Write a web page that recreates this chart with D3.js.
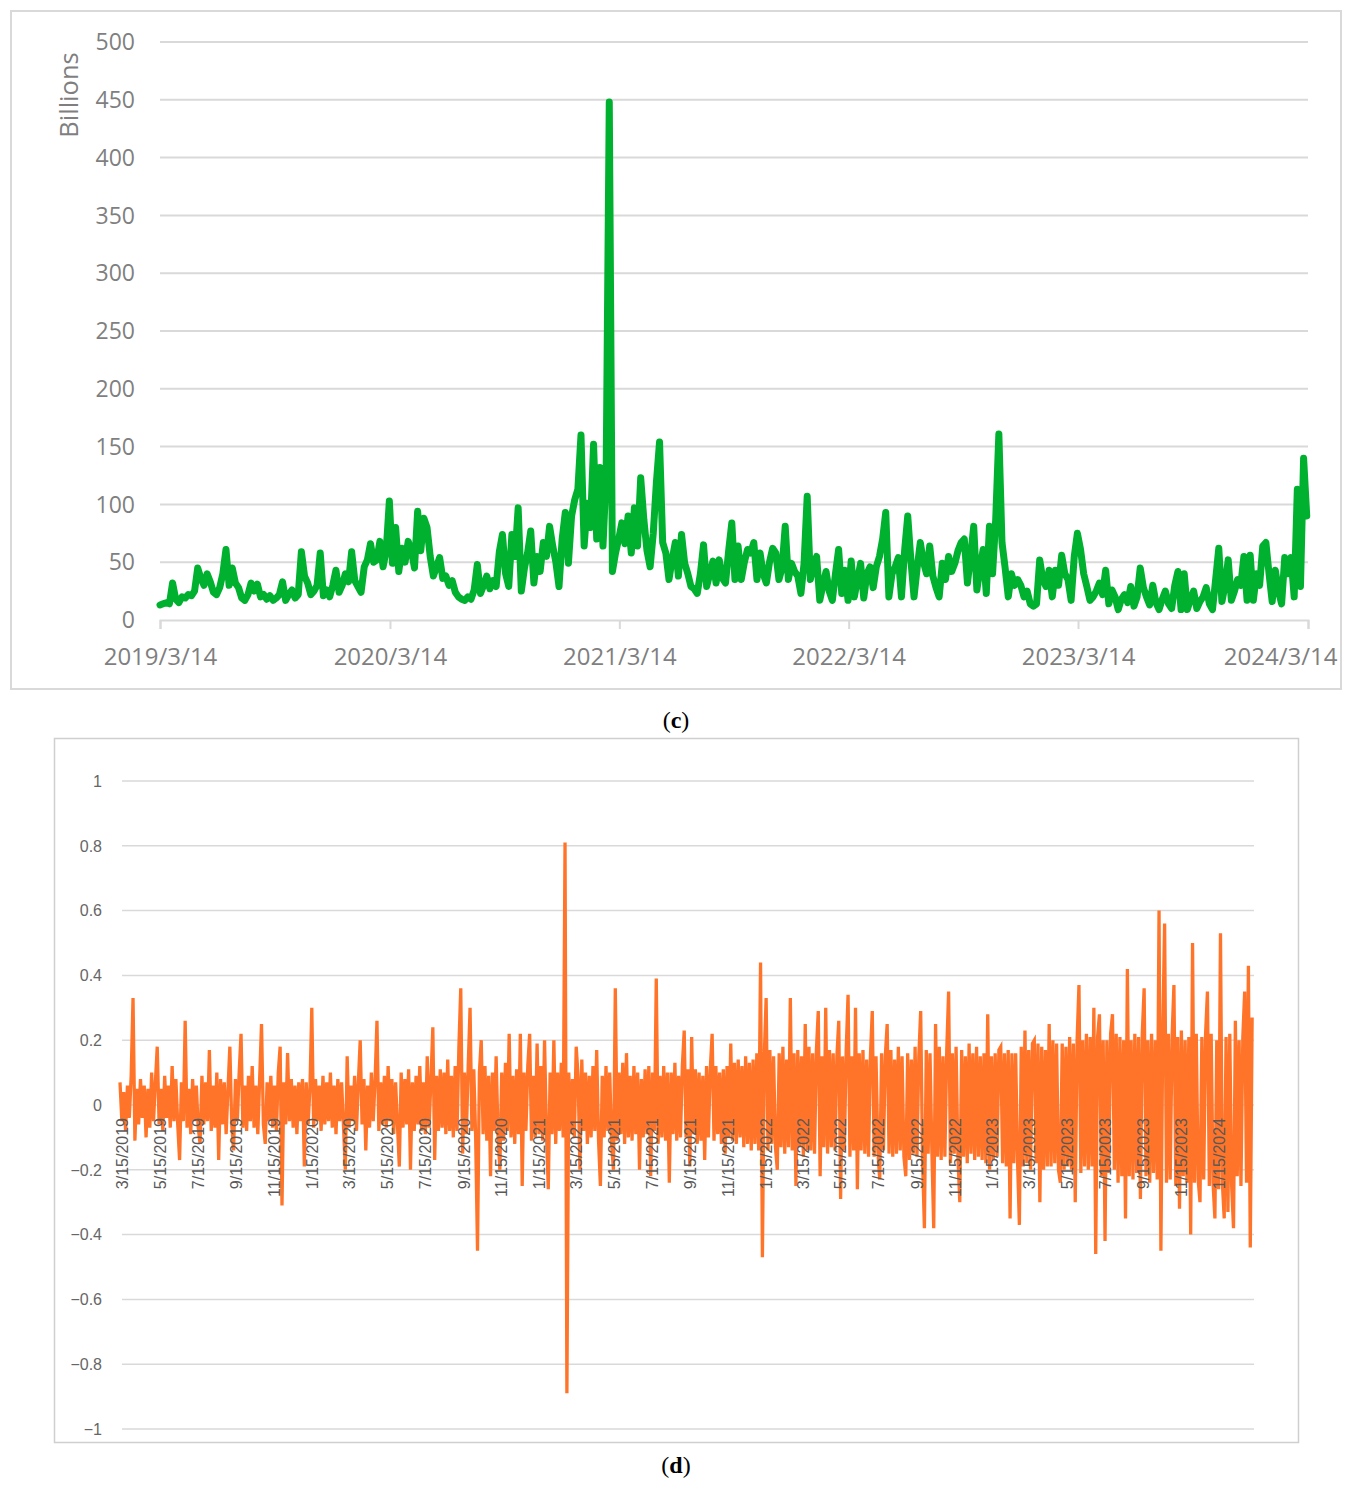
<!DOCTYPE html>
<html>
<head>
<meta charset="utf-8">
<script src="https://cdnjs.cloudflare.com/ajax/libs/d3/7.8.5/d3.min.js"></script>
<style>
  body { margin: 0; background: #fff; }
  svg { display: block; }
</style>
</head>
<body>
<svg id="mainSvg"></svg>
<script>
var WIDTH = 1352;
var HEIGHT = 1487;

// panel (c): traded volume in billions, one value every 5 days from 2019/3/14
var VOLUME_START = "2019-03-14";
var VOLUME_STEP_DAYS = 5;
var VOLUME = [
  13, 14, 15, 14, 32, 18, 15, 20, 19, 22, 21, 25, 45, 36, 30, 40, 33, 24, 22, 28,
  40, 61, 30, 45, 32, 28, 19, 17, 22, 32, 25, 31, 20, 22, 18, 21, 17, 19, 22, 33,
  17, 22, 26, 19, 22, 59, 38, 32, 22, 25, 30, 58, 21, 26, 20, 30, 43, 24, 30, 40,
  33, 59, 34, 29, 24, 46, 52, 66, 50, 52, 68, 46, 60, 103, 49, 80, 42, 62, 50, 68,
  60, 45, 94, 60, 88, 80, 55, 38, 46, 54, 36, 38, 30, 34, 24, 20, 18, 17, 20, 18,
  26, 48, 23, 30, 38, 27, 34, 29, 59, 74, 40, 29, 74, 55, 97, 25, 45, 58, 77, 32,
  55, 42, 67, 55, 81, 64, 50, 29, 70, 93, 49, 90, 104, 113, 160, 64, 101, 80, 152, 70,
  132, 64, 125, 448, 42, 58, 70, 84, 66, 90, 58, 97, 64, 123, 87, 60, 46, 75, 119, 154,
  67, 58, 35, 52, 67, 38, 74, 49, 40, 29, 27, 23, 40, 65, 29, 40, 51, 32, 52, 36,
  32, 60, 84, 35, 64, 35, 50, 61, 58, 67, 35, 58, 40, 32, 50, 62, 58, 35, 45, 81,
  35, 49, 42, 38, 23, 49, 107, 35, 48, 55, 17, 30, 42, 25, 17, 40, 61, 23, 43, 17,
  51, 20, 35, 49, 19, 40, 46, 28, 46, 55, 70, 93, 20, 40, 46, 54, 20, 60, 90, 52,
  20, 45, 67, 50, 40, 64, 38, 28, 20, 49, 35, 55, 42, 49, 60, 67, 70, 32, 55, 81,
  26, 45, 61, 23, 81, 40, 87, 161, 67, 45, 20, 40, 30, 35, 30, 20, 25, 14, 12, 14,
  52, 35, 29, 43, 20, 43, 30, 56, 40, 35, 17, 55, 75, 61, 40, 29, 17, 20, 25, 32,
  22, 43, 14, 26, 20, 9, 18, 22, 15, 29, 12, 20, 45, 28, 20, 13, 30, 15, 9, 18,
  25, 14, 10, 30, 42, 9, 40, 9, 18, 25, 10, 16, 20, 28, 14, 9, 35, 62, 16, 30,
  52, 17, 25, 35, 30, 55, 17, 56, 17, 40, 30, 64, 67, 40, 16, 43, 25, 14, 54, 40,
  54, 20, 113, 29, 140, 90
];
var VOLUME_Y_TICKS = [0, 50, 100, 150, 200, 250, 300, 350, 400, 450, 500];
var VOLUME_X_TICKS = ["2019-03-14", "2020-03-14", "2021-03-14", "2022-03-14", "2023-03-14", "2024-03-14"];

// panel (d): returns, one value every 3 days from 2019/3/14
var RETURN_START = "2019-03-14";
var RETURN_STEP_DAYS = 3;
var RETURNS = [
  0.07, -0.05, 0.04, -0.08, 0.06, -0.04, 0.09, 0.33, -0.11, 0.05, -0.06, 0.08, -0.04, 0.06, -0.10, 0.05, -0.07, 0.10, -0.05, 0.07,
  0.18, -0.06, 0.05, -0.08, 0.09, -0.04, 0.06, -0.07, 0.12, -0.05, 0.08, -0.06, -0.17, 0.07, -0.05, 0.26, -0.07, 0.05, -0.09, 0.08,
  -0.05, 0.06, -0.07, -0.12, 0.09, -0.06, 0.07, -0.05, 0.17, -0.08, 0.06, -0.07, 0.10, -0.17, 0.08, -0.06, 0.07, -0.09, 0.05, 0.18,
  -0.06, -0.14, 0.08, -0.05, 0.10, 0.22, -0.07, 0.06, -0.08, 0.09, -0.05, 0.12, -0.07, 0.06, -0.09, 0.08, 0.25, -0.06, -0.12, 0.07,
  -0.05, 0.09, -0.07, 0.06, -0.08, 0.10, 0.18, -0.31, 0.07, -0.06, 0.16, -0.05, 0.08, -0.07, 0.06, -0.09, 0.07, -0.05, 0.08, -0.19,
  0.07, -0.06, 0.05, 0.30, -0.07, 0.08, -0.05, 0.06, -0.08, 0.09, -0.06, 0.07, -0.05, 0.10, -0.07, 0.06, -0.09, 0.08, -0.05, 0.07,
  -0.06, -0.20, 0.15, -0.07, 0.06, -0.05, 0.09, -0.08, 0.07, 0.20, -0.06, 0.08, -0.14, 0.06, -0.07, 0.10, -0.05, 0.08, 0.26, -0.08,
  0.07, -0.06, 0.09, -0.07, 0.12, -0.05, 0.08, -0.09, 0.07, -0.06, -0.19, 0.10, -0.07, 0.08, -0.06, 0.11, -0.20, 0.07, -0.08, 0.09,
  -0.06, 0.12, -0.08, 0.07, -0.09, 0.15, -0.07, 0.08, 0.24, -0.17, 0.09, -0.08, 0.11, -0.07, 0.10, -0.09, 0.14, -0.08, 0.09, -0.10,
  0.12, -0.08, 0.18, 0.36, -0.15, 0.10, -0.09, 0.12, 0.30, -0.08, 0.11, -0.10, -0.45, 0.10, 0.20, -0.09, 0.12, -0.11, 0.09, -0.22,
  0.10, -0.08, 0.15, -0.09, -0.20, 0.10, -0.11, 0.13, -0.08, 0.22, -0.10, 0.09, -0.12, 0.11, -0.09, 0.22, -0.25, 0.10, -0.08, 0.12,
  0.22, -0.11, 0.09, -0.10, 0.19, -0.09, 0.12, -0.11, 0.20, -0.08, -0.26, 0.10, -0.09, 0.20, -0.12, 0.10, -0.08, 0.13, -0.10, 0.81,
  -0.89, 0.10, -0.09, 0.08, -0.10, 0.18, 0.09, -0.20, 0.14, -0.08, 0.10, -0.12, 0.09, -0.10, 0.12, -0.08, 0.17, -0.11, -0.25, 0.09,
  -0.10, 0.12, -0.08, 0.10, -0.12, -0.20, 0.36, -0.11, 0.10, -0.09, 0.13, -0.12, 0.16, -0.10, 0.09, -0.11, 0.12, -0.09, 0.10, -0.20,
  0.08, -0.10, 0.11, -0.09, 0.12, -0.22, 0.10, -0.08, 0.39, -0.12, 0.09, -0.10, 0.12, -0.11, 0.10, -0.24, 0.10, -0.09, 0.13, -0.11,
  0.09, -0.10, 0.12, 0.23, -0.10, 0.11, -0.19, 0.21, -0.09, 0.11, -0.12, 0.10, -0.11, 0.09, -0.17, 0.12, -0.10, 0.11, 0.22, -0.11,
  0.12, -0.09, 0.10, -0.12, 0.11, -0.15, 0.12, -0.10, 0.19, -0.11, 0.13, -0.12, 0.14, -0.10, 0.12, -0.13, 0.15, -0.12, 0.13, -0.14,
  0.14, -0.12, 0.16, -0.14, 0.44, -0.47, 0.15, 0.33, -0.14, 0.17, -0.12, 0.15, -0.13, -0.20, 0.16, -0.13, 0.18, -0.15, 0.14, -0.13,
  0.33, -0.14, 0.16, -0.25, 0.17, -0.13, 0.15, -0.16, 0.25, -0.14, 0.18, -0.14, 0.16, -0.15, 0.17, 0.29, -0.22, 0.15, -0.13, 0.30,
  -0.15, 0.17, -0.13, 0.16, -0.14, 0.15, 0.26, -0.29, 0.15, -0.14, 0.17, 0.34, -0.16, 0.15, -0.14, 0.30, -0.26, 0.16, -0.14, 0.17,
  -0.15, 0.14, -0.16, 0.15, 0.29, -0.16, 0.15, -0.14, -0.23, 0.16, -0.14, 0.15, 0.25, -0.15, 0.17, -0.16, 0.14, -0.15, 0.18, -0.14,
  0.15, -0.16, -0.22, 0.16, -0.17, 0.14, -0.15, 0.18, -0.16, 0.15, 0.29, -0.17, -0.38, 0.17, -0.15, 0.16, -0.14, -0.38, 0.25, -0.16,
  0.18, -0.17, 0.15, -0.16, 0.17, 0.35, -0.18, 0.16, -0.15, 0.18, -0.16, -0.30, 0.17, -0.16, 0.15, -0.18, 0.19, -0.15, 0.16, -0.17,
  0.18, -0.16, 0.15, -0.17, 0.16, -0.18, 0.28, -0.20, 0.15, -0.17, 0.16, -0.16, 0.17, 0.18, -0.18, 0.16, -0.19, 0.17, -0.35, 0.16,
  -0.18, 0.16, -0.17, -0.37, 0.18, -0.19, 0.23, -0.18, 0.17, -0.20, 0.19, 0.20, -0.18, 0.19, -0.30, 0.18, -0.20, 0.17, -0.19, 0.25,
  -0.19, 0.20, -0.18, 0.19, -0.20, -0.24, 0.19, -0.20, 0.18, -0.19, 0.21, -0.20, 0.19, -0.30, 0.20, 0.37, -0.21, 0.20, -0.19, 0.22,
  -0.20, 0.21, -0.19, 0.30, -0.46, 0.21, 0.28, -0.22, 0.20, -0.42, 0.20, -0.21, 0.22, 0.28, -0.20, 0.22, -0.24, 0.21, -0.22, 0.20,
  -0.35, 0.42, -0.22, 0.20, -0.23, 0.22, -0.21, 0.21, -0.29, 0.22, 0.36, -0.22, 0.20, -0.24, 0.22, -0.21, 0.20, -0.23, 0.60, -0.45,
  0.22, 0.56, -0.24, 0.22, -0.23, 0.21, 0.37, -0.25, 0.21, -0.32, 0.23, -0.22, 0.20, -0.24, 0.21, -0.40, 0.50, -0.24, 0.22, -0.23,
  -0.30, 0.21, -0.23, 0.22, 0.35, -0.25, 0.22, -0.24, -0.35, 0.20, -0.26, 0.53, -0.24, -0.35, 0.21, -0.33, 0.22, -0.25, -0.38, 0.26,
  -0.22, 0.20, -0.25, 0.21, 0.35, -0.24, 0.43, -0.44, 0.27
];
var RETURN_Y_TICKS = [1, 0.8, 0.6, 0.4, 0.2, 0, -0.2, -0.4, -0.6, -0.8, -1];
var RETURN_X_TICKS = [
  "2019-03-15", "2019-05-15", "2019-07-15", "2019-09-15", "2019-11-15",
  "2020-01-15", "2020-03-15", "2020-05-15", "2020-07-15", "2020-09-15", "2020-11-15",
  "2021-01-15", "2021-03-15", "2021-05-15", "2021-07-15", "2021-09-15", "2021-11-15",
  "2022-01-15", "2022-03-15", "2022-05-15", "2022-07-15", "2022-09-15", "2022-11-15",
  "2023-01-15", "2023-03-15", "2023-05-15", "2023-07-15", "2023-09-15", "2023-11-15",
  "2024-01-15"
];

var GRID = "#d9d9d9";
var GREEN = "#00b12f";
var ORANGE = "#ff7428";

var parse = d3.timeParse("%Y-%m-%d");

function toSeries(startStr, step, values) {
  var start = parse(startStr);
  return values.map(function (v, i) {
    return { date: d3.timeDay.offset(start, i * step), value: v };
  });
}

function drawVolume(svg) {
  var g = svg.append("g");
  var left = 160, right = 1308, top = 42, bottom = 620;

  g.append("rect")
    .attr("x", 11).attr("y", 11).attr("width", 1330).attr("height", 678)
    .attr("fill", "none").attr("stroke", GRID).attr("stroke-width", 2);

  var x = d3.scaleTime()
    .domain([parse("2019-03-14"), parse("2024-03-14")])
    .range([left, right]);
  var y = d3.scaleLinear().domain([0, 500]).range([bottom, top]);

  // grid lines
  g.selectAll(".vgrid")
    .data(VOLUME_Y_TICKS.filter(function (d) { return d > 0; }))
    .enter().append("line")
    .attr("x1", left).attr("x2", right)
    .attr("y1", function (d) { return y(d); })
    .attr("y2", function (d) { return y(d); })
    .attr("stroke", GRID).attr("stroke-width", 2);

  // y labels
  g.selectAll(".vylab")
    .data(VOLUME_Y_TICKS)
    .enter().append("text")
    .attr("x", 135)
    .attr("y", function (d) { return y(d); })
    .attr("dy", "0.36em")
    .attr("text-anchor", "end")
    .attr("font-family", "Open Sans, sans-serif")
    .attr("font-size", 23)
    .attr("fill", "#7f7f7f")
    .text(function (d) { return d; });

  g.append("text")
    .attr("transform", "translate(78,95) rotate(-90)")
    .attr("text-anchor", "middle")
    .attr("font-family", "Open Sans, sans-serif")
    .attr("font-size", 25.5)
    .attr("fill", "#7f7f7f")
    .text("Billions");

  // x axis
  var xAxis = d3.axisBottom(x)
    .tickValues(VOLUME_X_TICKS.map(parse))
    .tickSize(9)
    .tickPadding(19)
    .tickFormat(d3.timeFormat("%Y/%-m/%-d"));
  var ax = g.append("g")
    .attr("transform", "translate(0," + bottom + ")")
    .call(xAxis);
  ax.select(".domain").attr("stroke", GRID).attr("stroke-width", 2);
  ax.selectAll(".tick line").attr("stroke", GRID).attr("stroke-width", 2);
  ax.selectAll(".tick text")
    .attr("font-family", "Open Sans, sans-serif")
    .attr("font-size", 24)
    .attr("fill", "#7f7f7f");
  // last label is pulled inside the frame, as in the original
  ax.selectAll(".tick text")
    .filter(function (d, i, nodes) { return i === nodes.length - 1; })
    .attr("text-anchor", "end")
    .attr("x", 29);

  var line = d3.line()
    .x(function (d) { return x(d.date); })
    .y(function (d) { return y(d.value); });

  g.append("path")
    .datum(toSeries(VOLUME_START, VOLUME_STEP_DAYS, VOLUME))
    .attr("d", line)
    .attr("fill", "none")
    .attr("stroke", GREEN)
    .attr("stroke-width", 7)
    .attr("stroke-linejoin", "round")
    .attr("stroke-linecap", "round");
}

function drawReturns(svg) {
  var g = svg.append("g");
  var left = 120, right = 1254, gridLeft = 122, top = 781, bottom = 1429;

  g.append("rect")
    .attr("x", 54.5).attr("y", 738.5).attr("width", 1244).attr("height", 704)
    .attr("fill", "none").attr("stroke", "#cfcfcf").attr("stroke-width", 1.5);

  var x = d3.scaleTime()
    .domain([parse("2019-03-14"), parse("2024-03-14")])
    .range([left, right]);
  var y = d3.scaleLinear().domain([-1, 1]).range([bottom, top]);

  g.selectAll(".rgrid")
    .data(RETURN_Y_TICKS)
    .enter().append("line")
    .attr("x1", gridLeft).attr("x2", right)
    .attr("y1", function (d) { return y(d); })
    .attr("y2", function (d) { return y(d); })
    .attr("stroke", GRID).attr("stroke-width", 1.5);

  g.selectAll(".rylab")
    .data(RETURN_Y_TICKS)
    .enter().append("text")
    .attr("x", 102)
    .attr("y", function (d) { return y(d); })
    .attr("dy", "0.36em")
    .attr("text-anchor", "end")
    .attr("font-family", "Liberation Sans, Arial, sans-serif")
    .attr("font-size", 16)
    .attr("fill", "#666")
    .text(function (d) { return d < 0 ? "\u2212" + Math.abs(d) : d; });

  var line = d3.line()
    .x(function (d) { return x(d.date); })
    .y(function (d) { return y(d.value); });

  g.append("path")
    .datum(toSeries(RETURN_START, RETURN_STEP_DAYS, RETURNS))
    .attr("d", line)
    .attr("fill", "none")
    .attr("stroke", ORANGE)
    .attr("stroke-width", 3.3)
    .attr("stroke-linejoin", "miter");

  var fmt = d3.timeFormat("%-m/%-d/%Y");
  g.selectAll(".rxlab")
    .data(RETURN_X_TICKS.map(parse))
    .enter().append("text")
    .attr("transform", function (d) {
      return "translate(" + (x(d) + 2) + "," + 1118 + ") rotate(-90)";
    })
    .attr("dy", "0.35em")
    .attr("text-anchor", "end")
    .attr("font-family", "Liberation Sans, Arial, sans-serif")
    .attr("font-size", 16)
    .attr("fill", "#595959")
    .text(fmt);
}

function drawCaption(svg, y, letter) {
  var t = svg.append("text")
    .attr("x", WIDTH / 2)
    .attr("y", y)
    .attr("text-anchor", "middle")
    .attr("font-family", "Liberation Serif, Times New Roman, serif")
    .attr("font-size", 24)
    .attr("fill", "#000");
  t.append("tspan").text("(");
  t.append("tspan").attr("font-weight", "bold").text(letter);
  t.append("tspan").text(")");
}

function render() {
  var svg = d3.select("#mainSvg")
    .attr("width", WIDTH)
    .attr("height", HEIGHT);

  svg.append("rect").attr("width", WIDTH).attr("height", HEIGHT).attr("fill", "#fff");

  drawVolume(svg);
  drawCaption(svg, 728, "c");
  drawReturns(svg);
  drawCaption(svg, 1473, "d");
}

render();
</script>
</body>
</html>
